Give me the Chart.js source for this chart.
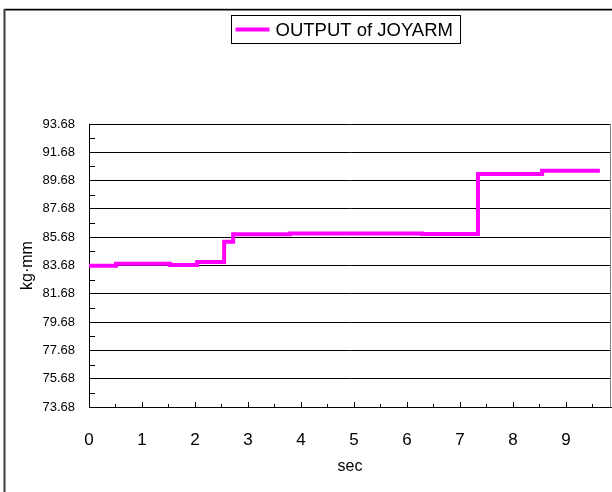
<!DOCTYPE html>
<html>
<head>
<meta charset="utf-8">
<script src="https://cdn.jsdelivr.net/npm/chart.js@4/dist/chart.umd.min.js"></script>
<style>
  html, body { margin: 0; padding: 0; background: #fff; }
  canvas { display: block; }
</style>
</head>
<body>
<canvas id="c" width="612" height="492"></canvas>
<script>
// Series: output torque of the joy arm, held level between steps
const seriesLabel = 'OUTPUT of JOYARM';
const stepTimes  = [0, 0.51, 1.53, 2.04, 2.55, 2.72, 3.79, 6.28, 7.34, 8.55, 9.64];   // sec
const stepValues = [83.67, 83.81, 83.72, 83.93, 85.36, 85.88, 85.95, 85.90, 90.15, 90.37, 90.37]; // kg·mm

// Axes
const yTickValues  = [73.68, 75.68, 77.68, 79.68, 81.68, 83.68, 85.68, 87.68, 89.68, 91.68, 93.68];
const yTickLabels  = ['73.68', '75.68', '77.68', '79.68', '81.68', '83.68', '85.68', '87.68', '89.68', '91.68', '93.68'];
const yMinorValues = [74.68, 76.68, 78.68, 80.68, 82.68, 84.68, 86.68, 88.68, 90.68, 92.68];
const xTickValues  = [0, 1, 2, 3, 4, 5, 6, 7, 8, 9];
const xTickLabels  = ['0', '1', '2', '3', '4', '5', '6', '7', '8', '9'];
const xMinorValues = [0.5, 1.5, 2.5, 3.5, 4.5, 5.5, 6.5, 7.5, 8.5, 9.5];
const xMin = 0, xMax = 9.85;
const yMin = 73.68, yMax = 93.68;

const FONT = 'Liberation Sans, Arial, sans-serif';
const LINE_COLOR = '#FF00FF';

// Outer frame (top and left edges) behind everything
const framePlugin = {
  id: 'frame',
  beforeDraw(chart) {
    const ctx = chart.ctx;
    ctx.save();
    ctx.fillStyle = '#fff';
    ctx.fillRect(0, 0, chart.width, chart.height);
    ctx.strokeStyle = '#c8c8c8';
    ctx.lineWidth = 1;
    ctx.beginPath(); ctx.moveTo(4, 8.5); ctx.lineTo(chart.width, 8.5); ctx.stroke();
    ctx.strokeStyle = '#000';
    ctx.lineWidth = 1.5;
    ctx.beginPath(); ctx.moveTo(4, 9.75); ctx.lineTo(chart.width, 9.75); ctx.stroke();
    ctx.strokeStyle = '#3a3a3a';
    ctx.lineWidth = 2;
    ctx.beginPath(); ctx.moveTo(4.5, 9); ctx.lineTo(4.5, chart.height); ctx.stroke();
    ctx.restore();
  }
};

// Inward tick marks on both axes plus the right edge of the plot
const innerTicksPlugin = {
  id: 'innerTicks',
  beforeDatasetsDraw(chart) {
    const {ctx, chartArea, scales} = chart;
    const xs = scales.x, ys = scales.y;
    ctx.save();
    ctx.strokeStyle = '#000';
    ctx.lineWidth = 1;
    ctx.beginPath();
    yMinorValues.forEach(v => {
      const py = Math.round(ys.getPixelForValue(v)) + 0.5;
      ctx.moveTo(chartArea.left, py); ctx.lineTo(chartArea.left + 6, py);
    });
    xTickValues.forEach(v => {
      const px = Math.round(xs.getPixelForValue(v)) + 0.5;
      ctx.moveTo(px, chartArea.bottom); ctx.lineTo(px, chartArea.bottom - 5);
    });
    xMinorValues.forEach(v => {
      const px = Math.round(xs.getPixelForValue(v)) + 0.5;
      ctx.moveTo(px, chartArea.bottom); ctx.lineTo(px, chartArea.bottom - 3);
    });
    ctx.stroke();
    ctx.strokeStyle = '#808080';
    ctx.beginPath();
    ctx.moveTo(chartArea.right - 0.5, chartArea.top); ctx.lineTo(chartArea.right - 0.5, chartArea.bottom);
    ctx.stroke();
    ctx.restore();
  }
};

// Boxed legend centred above the plot
const boxLegendPlugin = {
  id: 'boxLegend',
  afterDraw(chart) {
    const {ctx, chartArea} = chart;
    const ds = chart.data.datasets[0];
    ctx.save();
    ctx.font = '18.5px ' + FONT;
    const tw = ctx.measureText(ds.label).width;
    const sample = 34, gap = 6, padL = 4, padR = 8;
    const w = padL + sample + gap + tw + padR;
    const h = 28;
    const cx = (chartArea.left + chartArea.right) / 2 - 4;
    const x0 = Math.round(cx - w / 2) + 0.5, y0 = 15.5;
    ctx.strokeStyle = '#000';
    ctx.lineWidth = 1;
    ctx.strokeRect(x0, y0, Math.round(w), h);
    ctx.strokeStyle = ds.borderColor;
    ctx.lineWidth = 4;
    ctx.beginPath();
    ctx.moveTo(x0 + padL, y0 + h / 2); ctx.lineTo(x0 + padL + sample, y0 + h / 2);
    ctx.stroke();
    ctx.fillStyle = '#000';
    ctx.textBaseline = 'middle';
    ctx.textAlign = 'left';
    ctx.fillText(ds.label, x0 + padL + sample + gap, y0 + h / 2 + 1);
    ctx.restore();
  }
};

new Chart(document.getElementById('c'), {
  type: 'line',
  data: {
    datasets: [{
      label: seriesLabel,
      data: stepTimes.map((t, i) => ({ x: t, y: stepValues[i] })),
      stepped: 'before',
      borderColor: LINE_COLOR,
      backgroundColor: LINE_COLOR,
      borderWidth: 4,
      pointRadius: 0,
      fill: false,
      borderCapStyle: 'butt',
      borderJoinStyle: 'miter'
    }]
  },
  options: {
    responsive: false,
    animation: false,
    devicePixelRatio: 1,
    layout: { padding: { top: 124, left: 0, right: 1, bottom: 0 } },
    plugins: {
      legend: { display: false },
      tooltip: { enabled: false }
    },
    scales: {
      x: {
        type: 'linear',
        min: xMin,
        max: xMax,
        afterBuildTicks: s => { s.ticks = xTickValues.map(v => ({ value: v })); },
        afterFit: s => { s.height = 85; },
        grid: { display: false },
        border: { color: '#000', width: 1 },
        ticks: {
          autoSkip: false,
          maxRotation: 0,
          padding: 15,
          color: '#000',
          font: { family: FONT, size: 17 },
          callback: (v, i) => xTickLabels[i]
        },
        title: {
          display: true,
          text: 'sec',
          color: '#000',
          font: { family: FONT, size: 16 },
          padding: { top: 0, bottom: 16 }
        }
      },
      y: {
        type: 'linear',
        min: yMin,
        max: yMax,
        afterBuildTicks: s => { s.ticks = yTickValues.map(v => ({ value: v })); },
        afterFit: s => { s.width = 89; },
        grid: { color: '#000', lineWidth: 1, drawTicks: false },
        border: { color: '#000', width: 1 },
        ticks: {
          padding: 14,
          color: '#000',
          font: { family: FONT, size: 13 },
          callback: (v, i) => yTickLabels[i]
        },
        title: {
          display: true,
          text: 'kg·mm',
          color: '#000',
          font: { family: FONT, size: 16 },
          padding: { top: 18, bottom: 0 }
        }
      }
    }
  },
  plugins: [framePlugin, innerTicksPlugin, boxLegendPlugin]
});
</script>
</body>
</html>
